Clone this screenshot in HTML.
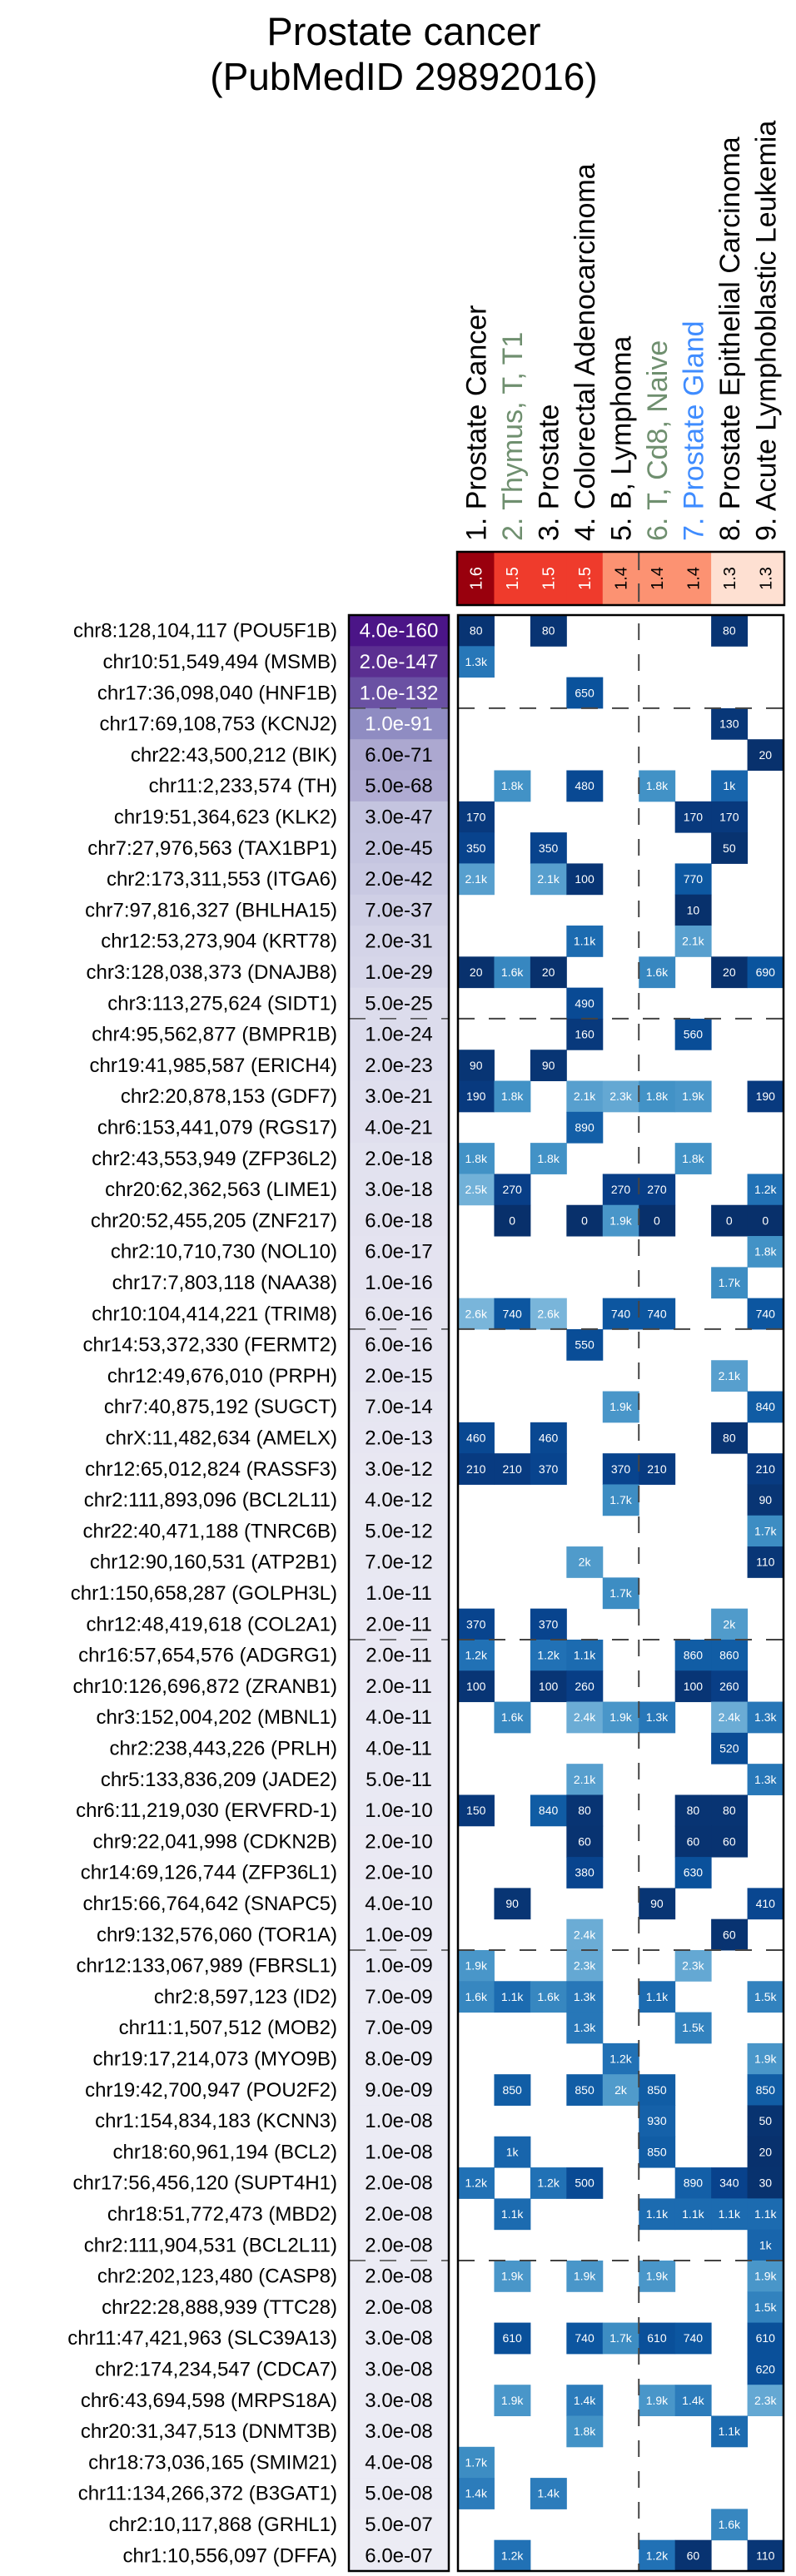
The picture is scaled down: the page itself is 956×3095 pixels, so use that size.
<!DOCTYPE html>
<html><head><meta charset="utf-8">
<style>
html,body{margin:0;padding:0;background:#fff;}
svg{display:block;font-family:"Liberation Sans",Arial,sans-serif;}
</style></head>
<body>
<svg id="chart" width="956" height="3095" viewBox="0 0 956 3095" xmlns="http://www.w3.org/2000/svg">
<text x="485" y="54" font-size="47" text-anchor="middle">Prostate cancer</text>
<text x="485" y="108" font-size="46" text-anchor="middle">(PubMedID 29892016)</text>
<g id="g"></g>
</svg>
<script>
const columns = ["1. Prostate Cancer","2. Thymus, T, T1","3. Prostate","4. Colorectal Adenocarcinoma","5. B, Lymphoma","6. T, Cd8, Naive","7. Prostate Gland","8. Prostate Epithelial Carcinoma","9. Acute Lymphoblastic Leukemia"];
const columnColors = ["#000","#6f8f6f","#000","#000","#000","#6f8f6f","#3f8cff","#000","#000"];
const enrichment = [1.6,1.5,1.5,1.5,1.4,1.4,1.4,1.3,1.3];
const loci = ["chr8:128,104,117","chr10:51,549,494","chr17:36,098,040","chr17:69,108,753","chr22:43,500,212","chr11:2,233,574","chr19:51,364,623","chr7:27,976,563","chr2:173,311,553","chr7:97,816,327","chr12:53,273,904","chr3:128,038,373","chr3:113,275,624","chr4:95,562,877","chr19:41,985,587","chr2:20,878,153","chr6:153,441,079","chr2:43,553,949","chr20:62,362,563","chr20:52,455,205","chr2:10,710,730","chr17:7,803,118","chr10:104,414,221","chr14:53,372,330","chr12:49,676,010","chr7:40,875,192","chrX:11,482,634","chr12:65,012,824","chr2:111,893,096","chr22:40,471,188","chr12:90,160,531","chr1:150,658,287","chr12:48,419,618","chr16:57,654,576","chr10:126,696,872","chr3:152,004,202","chr2:238,443,226","chr5:133,836,209","chr6:11,219,030","chr9:22,041,998","chr14:69,126,744","chr15:66,764,642","chr9:132,576,060","chr12:133,067,989","chr2:8,597,123","chr11:1,507,512","chr19:17,214,073","chr19:42,700,947","chr1:154,834,183","chr18:60,961,194","chr17:56,456,120","chr18:51,772,473","chr2:111,904,531","chr2:202,123,480","chr22:28,888,939","chr11:47,421,963","chr2:174,234,547","chr6:43,694,598","chr20:31,347,513","chr18:73,036,165","chr11:134,266,372","chr2:10,117,868","chr1:10,556,097"];
const genes = ["POU5F1B","MSMB","HNF1B","KCNJ2","BIK","TH","KLK2","TAX1BP1","ITGA6","BHLHA15","KRT78","DNAJB8","SIDT1","BMPR1B","ERICH4","GDF7","RGS17","ZFP36L2","LIME1","ZNF217","NOL10","NAA38","TRIM8","FERMT2","PRPH","SUGCT","AMELX","RASSF3","BCL2L11","TNRC6B","ATP2B1","GOLPH3L","COL2A1","ADGRG1","ZRANB1","MBNL1","PRLH","JADE2","ERVFRD-1","CDKN2B","ZFP36L1","SNAPC5","TOR1A","FBRSL1","ID2","MOB2","MYO9B","POU2F2","KCNN3","BCL2","SUPT4H1","MBD2","BCL2L11","CASP8","TTC28","SLC39A13","CDCA7","MRPS18A","DNMT3B","SMIM21","B3GAT1","GRHL1","DFFA"];
const pvalues = ["4.0e-160","2.0e-147","1.0e-132","1.0e-91","6.0e-71","5.0e-68","3.0e-47","2.0e-45","2.0e-42","7.0e-37","2.0e-31","1.0e-29","5.0e-25","1.0e-24","2.0e-23","3.0e-21","4.0e-21","2.0e-18","3.0e-18","6.0e-18","6.0e-17","1.0e-16","6.0e-16","6.0e-16","2.0e-15","7.0e-14","2.0e-13","3.0e-12","4.0e-12","5.0e-12","7.0e-12","1.0e-11","2.0e-11","2.0e-11","2.0e-11","4.0e-11","4.0e-11","5.0e-11","1.0e-10","2.0e-10","2.0e-10","4.0e-10","1.0e-09","1.0e-09","7.0e-09","7.0e-09","8.0e-09","9.0e-09","1.0e-08","1.0e-08","2.0e-08","2.0e-08","2.0e-08","2.0e-08","2.0e-08","3.0e-08","3.0e-08","3.0e-08","3.0e-08","4.0e-08","5.0e-08","5.0e-07","6.0e-07"];
const cellLabels = [
["80","","80","","","","","80",""],
["1.3k","","","","","","","",""],
["","","","650","","","","",""],
["","","","","","","","130",""],
["","","","","","","","","20"],
["","1.8k","","480","","1.8k","","1k",""],
["170","","","","","","170","170",""],
["350","","350","","","","","50",""],
["2.1k","","2.1k","100","","","770","",""],
["","","","","","","10","",""],
["","","","1.1k","","","2.1k","",""],
["20","1.6k","20","","","1.6k","","20","690"],
["","","","490","","","","",""],
["","","","160","","","560","",""],
["90","","90","","","","","",""],
["190","1.8k","","2.1k","2.3k","1.8k","1.9k","","190"],
["","","","890","","","","",""],
["1.8k","","1.8k","","","","1.8k","",""],
["2.5k","270","","","270","270","","","1.2k"],
["","0","","0","1.9k","0","","0","0"],
["","","","","","","","","1.8k"],
["","","","","","","","1.7k",""],
["2.6k","740","2.6k","","740","740","","","740"],
["","","","550","","","","",""],
["","","","","","","","2.1k",""],
["","","","","1.9k","","","","840"],
["460","","460","","","","","80",""],
["210","210","370","","370","210","","","210"],
["","","","","1.7k","","","","90"],
["","","","","","","","","1.7k"],
["","","","2k","","","","","110"],
["","","","","1.7k","","","",""],
["370","","370","","","","","2k",""],
["1.2k","","1.2k","1.1k","","","860","860",""],
["100","","100","260","","","100","260",""],
["","1.6k","","2.4k","1.9k","1.3k","","2.4k","1.3k"],
["","","","","","","","520",""],
["","","","2.1k","","","","","1.3k"],
["150","","840","80","","","80","80",""],
["","","","60","","","60","60",""],
["","","","380","","","630","",""],
["","90","","","","90","","","410"],
["","","","2.4k","","","","60",""],
["1.9k","","","2.3k","","","2.3k","",""],
["1.6k","1.1k","1.6k","1.3k","","1.1k","","","1.5k"],
["","","","1.3k","","","1.5k","",""],
["","","","","1.2k","","","","1.9k"],
["","850","","850","2k","850","","","850"],
["","","","","","930","","","50"],
["","1k","","","","850","","","20"],
["1.2k","","1.2k","500","","","890","340","30"],
["","1.1k","","","","1.1k","1.1k","1.1k","1.1k"],
["","","","","","","","","1k"],
["","1.9k","","1.9k","","1.9k","","","1.9k"],
["","","","","","","","","1.5k"],
["","610","","740","1.7k","610","740","","610"],
["","","","","","","","","620"],
["","1.9k","","1.4k","","1.9k","1.4k","","2.3k"],
["","","","1.8k","","","","1.1k",""],
["1.7k","","","","","","","",""],
["1.4k","","1.4k","","","","","",""],
["","","","","","","","1.6k",""],
["","1.2k","","","","1.2k","60","","110"]
];
const groupBreaks = [3,13,23,33,43,53];

const NS="http://www.w3.org/2000/svg";
const g=document.getElementById('g');
function mk(tag,attrs,parent){const e=document.createElementNS(NS,tag);for(const k in attrs)e.setAttribute(k,attrs[k]);(parent||g).appendChild(e);return e;}
const HX0=550,HX1=941,HY0=739,HY1=3089,PX0=419,PX1=539;
const nCol=columns.length,nRow=loci.length;
const colW=(HX1-HX0)/nCol,rowH=(HY1-HY0)/nRow;
const xPos=i=>HX0+colW*i, yPos=r=>HY0+rowH*r;
function hex(c){return [1,3,5].map(i=>parseInt(c.substr(i,2),16));}
function interp(stops,v){
  if(v<=stops[0][0])return stops[0][1];
  for(let i=1;i<stops.length;i++){if(v<=stops[i][0]){const a=stops[i-1],b=stops[i];const t=(v-a[0])/(b[0]-a[0]);const ca=hex(a[1]),cb=hex(b[1]);return 'rgb('+ca.map((x,j)=>Math.round(x+(cb[j]-x)*t)).join(',')+')';}}
  return stops[stops.length-1][1];
}
const blueStops=[[0,"#08306b"],[300,"#08408a"],[700,"#0a549e"],[1200,"#2171b5"],[1800,"#4292c6"],[2600,"#79b5da"]];
const purpleStops=[[0,"#efeff6"],[8,"#ebebf4"],[16,"#e4e3f0"],[24,"#dcdcec"],[31,"#d4d4e8"],[47,"#c3c3df"],[71,"#aba7d0"],[91,"#8f8cc2"],[132,"#6a51a3"],[147,"#5b2e91"],[160,"#4a1486"]];
const redStops=[[1.3,"#fee0d2"],[1.4,"#fc9272"],[1.5,"#ef3b2c"],[1.6,"#99000d"]];
function parseVal(s){return s.endsWith('k')?parseFloat(s)*1000:parseFloat(s);}

columns.forEach((c,i)=>{
  const cx=xPos(i)+colW/2+12;
  const t=mk('text',{x:cx,y:650,'font-size':34,fill:columnColors[i],transform:`rotate(-90 ${cx} 650)`});
  
  
  t.textContent=c;
});
enrichment.forEach((v,i)=>{
  const r=mk('rect',{x:xPos(i),y:663,width:colW+0.5,height:64,fill:interp(redStops,v)});
  
  
  const cx=xPos(i)+colW/2+7;
  const t=mk('text',{x:cx,y:695,'font-size':20,'text-anchor':'middle',fill:v>=1.5?'#fff':'#000',transform:`rotate(-90 ${cx} 695)`});
  
  
  t.textContent=v.toFixed(1);
});
mk('line',{x1:xPos(5),x2:xPos(5),y1:663,y2:727,stroke:'#444','stroke-width':2,'stroke-dasharray':'22 16'});
const eb=mk('rect',{x:HX0-1,y:663,width:HX1-HX0+2,height:64,fill:'none',stroke:'#000','stroke-width':2.5});



for(let r=0;r<nRow;r++){
  const y=yPos(r),cy=y+rowH/2;
  const lab=mk('text',{x:405,y:cy+8,'font-size':24,'text-anchor':'end',fill:'#000'});
  
  
  lab.textContent=loci[r]+' ('+genes[r]+')';
  const lp=-Math.log10(parseFloat(pvalues[r]));
  const pr=mk('rect',{x:PX0,y:y,width:PX1-PX0,height:rowH+0.5,fill:interp(purpleStops,lp)});
  
  
  const pt=mk('text',{x:(PX0+PX1)/2,y:cy+8,'font-size':24,'text-anchor':'middle',fill:lp>80?'#fff':'#000'});
  
  
  pt.textContent=pvalues[r];
  cellLabels[r].forEach((s,c)=>{
    if(s==='')return;
    const v=parseVal(s);
    const cr=mk('rect',{x:xPos(c),y:y,width:colW+0.5,height:rowH+0.5,fill:interp(blueStops,v)});
    
    
    const ct=mk('text',{x:xPos(c)+colW/2,y:cy+5,'font-size':14,'text-anchor':'middle',fill:'#fff'});
    
    
    ct.textContent=s;
  });
}
groupBreaks.forEach(b=>{
  const y=yPos(b);
  const l1=mk('line',{x1:HX0,x2:HX1,y1:y,y2:y,stroke:'#444','stroke-width':2,'stroke-dasharray':'20 17'});
  
  
  const l2=mk('line',{x1:PX0,x2:PX1,y1:y,y2:y,stroke:'#444','stroke-width':1.5,'stroke-dasharray':'20 17'});
  
  
});
const vl=mk('line',{x1:xPos(5),x2:xPos(5),y1:HY0+10,y2:HY1,stroke:'#444','stroke-width':2,'stroke-dasharray':'20 17'});


const hb=mk('rect',{x:HX0,y:HY0,width:HX1-HX0,height:HY1-HY0,fill:'none',stroke:'#000','stroke-width':2.5});


const pb=mk('rect',{x:PX0,y:HY0,width:PX1-PX0,height:HY1-HY0,fill:'none',stroke:'#000','stroke-width':2.5});


</script>
</body></html>
